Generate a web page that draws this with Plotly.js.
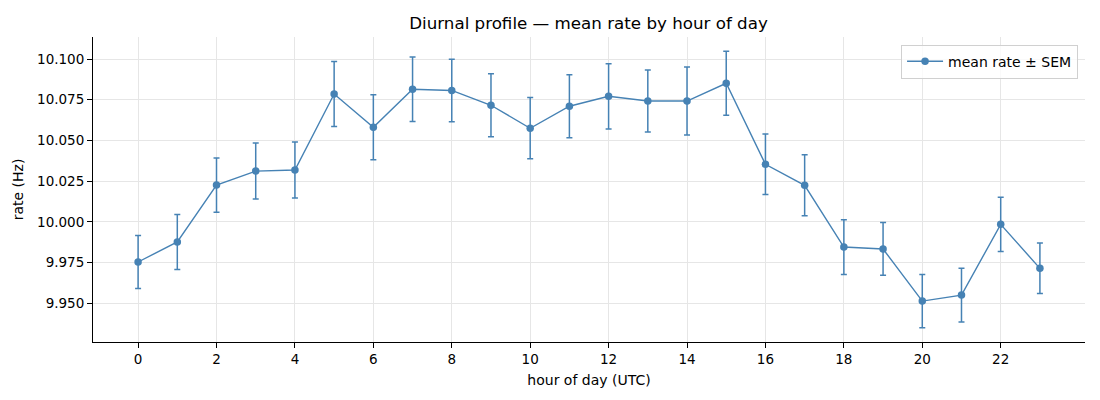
<!DOCTYPE html>
<html>
<head>
<meta charset="utf-8">
<script src="https://cdn.plot.ly/plotly-3.0.1.min.js"></script>
<style>
  body { margin: 0; background: #fff; }
  #chart { width: 1100px; height: 400px; }
</style>
</head>
<body>
<div id="chart"></div>
<script>
// hourly means and SEM
const hours = [0, 1, 2, 3, 4, 5, 6, 7, 8, 9, 10, 11, 12, 13, 14, 15, 16, 17, 18, 19, 20, 21, 22, 23];
const meanRate = [9.9754, 9.9877, 10.0226, 10.0312, 10.0319, 10.0785, 10.0581, 10.0814, 10.0807, 10.0716,
    10.0575, 10.0710, 10.0771, 10.0742, 10.0742, 10.0851, 10.0354, 10.0225, 9.9846, 9.9834,
    9.9514, 9.9551, 9.9985, 9.9715];
const sem = [0.0163, 0.0169, 0.0166, 0.0172, 0.0172, 0.0200, 0.0200, 0.0198, 0.0192, 0.0193,
    0.0188, 0.0193, 0.0200, 0.0190, 0.0209, 0.0196, 0.0185, 0.0187, 0.0168, 0.0162,
    0.0163, 0.0165, 0.0166, 0.0155];
const xTicks = [0, 2, 4, 6, 8, 10, 12, 14, 16, 18, 20, 22];
const yTicks = [9.950, 9.975, 10.000, 10.025, 10.050, 10.075, 10.100];

const color = '#4682b4';
const font = 'DejaVu Sans, sans-serif';

const data = [{
    x: hours,
    y: meanRate,
    error_y: {
        type: 'data',
        array: sem,
        visible: true,
        color: color,
        thickness: 1.5,
        width: 3
    },
    mode: 'lines+markers',
    type: 'scatter',
    name: 'mean rate ± SEM',
    line: { color: color, width: 1.4 },
    marker: { color: color, size: 7.5 }
}];

const layout = {
    width: 1100,
    height: 400,
    margin: { l: 93, r: 15, t: 37, b: 58 },
    paper_bgcolor: '#fff',
    plot_bgcolor: '#fff',
    font: { family: font, size: 13.5, color: '#000' },
    title: {
        text: 'Diurnal profile — mean rate by hour of day',
        font: { family: font, size: 16.7, color: '#000' },
        x: 0.535, xanchor: 'center', y: 0.942, yanchor: 'middle'
    },
    showlegend: true,
    legend: {
        x: 0.993, xanchor: 'right', y: 0.975, yanchor: 'top',
        bgcolor: 'rgba(255,255,255,0.8)',
        bordercolor: '#d0d0d0', borderwidth: 1,
        itemwidth: 36,
        font: { family: font, size: 14 }
    },
    xaxis: {
        range: [-1.15, 24.15],
        tickvals: xTicks,
        ticks: 'outside', ticklen: 5, tickcolor: '#000',
        showline: true, linecolor: '#000', linewidth: 1,
        showgrid: true, gridcolor: '#e6e6e6', gridwidth: 1,
        zeroline: false,
        title: { text: 'hour of day (UTC)', font: { family: font, size: 14 }, standoff: 8 }
    },
    yaxis: {
        range: [9.9263, 10.1135],
        tickvals: yTicks,
        tickformat: '.3f',
        ticks: 'outside', ticklen: 5, tickcolor: '#000',
        showline: true, linecolor: '#000', linewidth: 1,
        showgrid: true, gridcolor: '#e6e6e6', gridwidth: 1,
        zeroline: false,
        title: { text: 'rate (Hz)', font: { family: font, size: 14 }, standoff: 10 }
    }
};

Plotly.newPlot('chart', data, layout, { displayModeBar: false, staticPlot: true });
</script>
</body>
</html>
